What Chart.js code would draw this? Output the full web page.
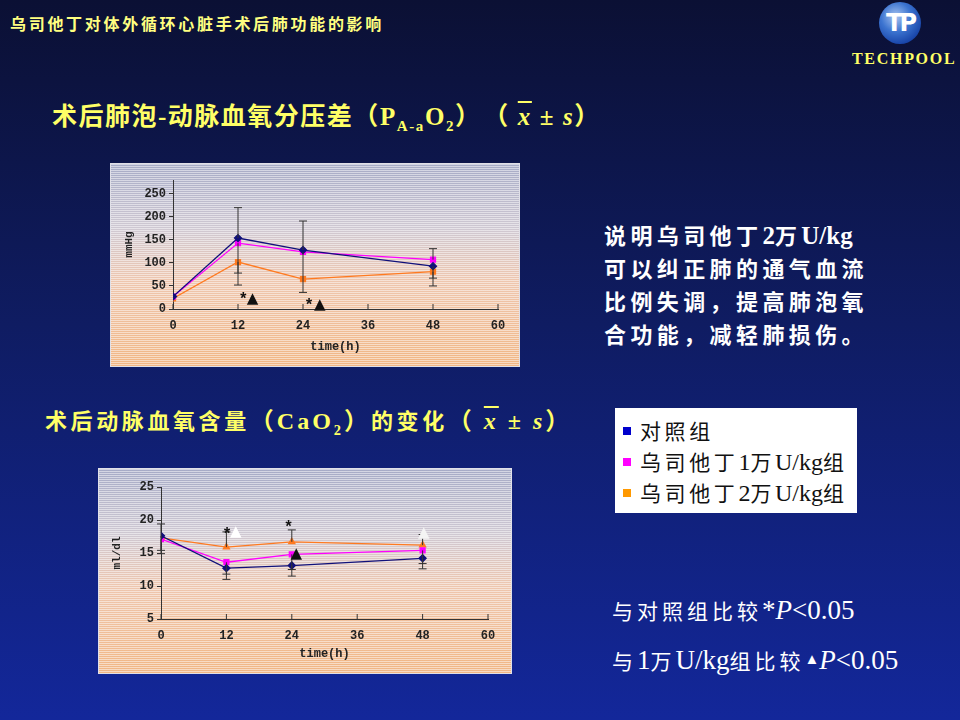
<!DOCTYPE html>
<html>
<head>
<meta charset="utf-8">
<script src="https://cdn.jsdelivr.net/npm/chart.js@4.4.0/dist/chart.umd.min.js"></script>
<style>
  html, body { margin:0; padding:0; }
  body {
    width:960px; height:720px; overflow:hidden; position:relative;
    background: linear-gradient(to bottom, #0b1034 0%, #0f1c62 45%, #13279a 100%);
    font-family: "Liberation Serif", "Noto Sans CJK SC", serif;
  }
  .abs { position:absolute; white-space:nowrap; }
  .yellow { color:#ffff66; }
  .lat { letter-spacing:0; }
  .head { left:10px; top:11px; font:bold 16px "Noto Sans CJK SC"; letter-spacing:2.7px; color:#ffff80; }
  .logo { left:879px; top:2px; width:42px; height:42px; border-radius:50%;
    background: radial-gradient(circle at 40% 35%, #a8c4f0 0%, #3c74d0 40%, #1844a8 75%, #0c2c80 100%);
    color:#fff; font:bold 24px "DejaVu Sans"; text-align:center; line-height:42px; letter-spacing:-3px; }
  .tech { left:852px; top:50px; font:bold 16px "Liberation Serif"; letter-spacing:1.7px; color:#ffff66; }
  .t1 { left:52px; top:102px; font-size:25px; font-weight:bold; letter-spacing:1.5px; line-height:30px; }
  .t1 .lat { letter-spacing:1.6px; }
  .t2 { left:45px; top:406px; font-size:22px; font-weight:bold; letter-spacing:3.6px; line-height:30px; }
  .t2 .lat { font-size:24px; letter-spacing:3px; }
  .xbar { text-decoration: overline; font-style:italic; }
  sub { font-size:60%; }
  .box { position:absolute; border:1px solid #e0e0e8; box-sizing:border-box;
    background:
      repeating-linear-gradient(to bottom, rgba(255,255,255,0.5) 0px, rgba(255,255,255,0.5) 1px, rgba(255,255,255,0) 1px, rgba(255,255,255,0) 2px),
      linear-gradient(to bottom, #a6abc6 0%, #cfc8d2 32%, #eec6ae 58%, #f1b684 100%);
  }
  .note { left:604px; top:218px; font:bold 22px "Noto Sans CJK SC"; letter-spacing:4.4px; line-height:33px; color:#fff; }
  .note .lat { font:bold 25px "Liberation Serif"; }
  .legend { left:615px; top:408px; width:242px; height:105px; background:#fff; }
  .legend .item { position:absolute; left:8px; font:21px "Noto Sans CJK SC"; letter-spacing:3.6px; color:#111; line-height:26px; }
  .legend .lat { font:24px "Liberation Serif"; letter-spacing:0; }
  .legend .sw { display:inline-block; width:8px; height:8px; margin-right:9px; vertical-align:middle; position:relative; top:-2px; }
  .sig { left:612px; font:21px "Noto Sans CJK SC"; color:#fff; letter-spacing:4px; line-height:30px; }
  .sig .lat { font:27px "Liberation Serif"; letter-spacing:0; }
</style>
</head>
<body>
<div class="abs head">乌司他丁对体外循环心脏手术后肺功能的影响</div>
<div class="abs logo">TP</div>
<div class="abs tech">TECHPOOL</div>

<div class="abs t1 yellow">术后肺泡-动脉血氧分压差<span class="lat">（P<sub>A-a</sub>O<sub>2</sub>）　（ <span class="xbar">x</span> ± <i>s</i>）</span></div>
<div class="abs t2 yellow">术后动脉血氧含量<span class="lat">（CaO<sub>2</sub>）</span>的变化<span class="lat">（ <span class="xbar">x</span> ± <i>s</i>）</span></div>

<div class="box" style="left:110px; top:163px; width:410px; height:204px;"><canvas id="chart1"></canvas></div>
<div class="box" style="left:98px; top:468px; width:414px; height:206px;"><canvas id="chart2"></canvas></div>

<div class="abs note">说明乌司他丁<span class="lat">2</span>万<span class="lat">U/kg</span><br>可以纠正肺的通气血流<br>比例失调，提高肺泡氧<br>合功能，减轻肺损伤。</div>

<div class="abs legend" id="legend"></div>

<div class="abs sig" style="top:595px;">与对照组比较<span class="lat">*<i>P</i>&lt;0.05</span></div>
<div class="abs sig" style="top:645px;">与<span class="lat">1</span>万<span class="lat">U/kg</span>组比较<span class="lat"><span style="font-size:15px;position:relative;top:-5px;">▲</span><i>P</i>&lt;0.05</span></div>

<script>
// 時間（h）
var times = [0, 12, 24, 48];
var groupNames = ['对照组', '乌司他丁1万U/kg组', '乌司他丁2万U/kg组'];
var groupColors = ['#0000cc', '#ff00ff', '#ff9900'];

// PA-aO2 (mmHg)
var pa_ctrl = [27, 154, 128, 93];
var pa_u1   = [27, 143, 124, 107];
var pa_u2   = [23, 102, 65, 81];
// 誤差（上・下）
var pa_ctrl_up = [null, 66, 63, null];
var pa_ctrl_dn = [null, null, null, 26];
var pa_u1_up   = [null, null, null, 24];
var pa_u1_dn   = [null, 91, 88, null];
var pa_u2_up   = [null, null, null, null];
var pa_u2_dn   = [null, 24, null, 31];
var pa_notes = [
  { x: 13.0, y: 20, text: '*', color: '#111' },
  { x: 14.7, y: 22, text: '▲', color: '#111' },
  { x: 25.1, y: 6, text: '*', color: '#111' },
  { x: 27.1, y: 8, text: '▲', color: '#111' }
];
var pa_yticks = [0, 50, 100, 150, 200, 250];

// CaO2 (ml/dl)
var ca_ctrl = [17.6, 12.7, 13.1, 14.2];
var ca_u1   = [17.1, 13.6, 14.8, 15.4];
var ca_u2   = [17.3, 15.9, 16.7, 16.2];
var ca_ctrl_up = [null, null, null, null];
var ca_ctrl_dn = [2.7, 1.7, 1.6, 1.6];
var ca_u1_up   = [null, null, null, null];
var ca_u1_dn   = [1.7, 1.8, 2.3, 2.0];
var ca_u2_up   = [2.1, 2.3, 1.8, 1.6];
var ca_u2_dn   = [null, null, null, null];
var ca_notes = [
  { x: 12.1, y: 17.7, text: '*', color: '#111' },
  { x: 13.7, y: 18.1, text: '▲', color: '#ffffff' },
  { x: 23.4, y: 18.8, text: '*', color: '#111' },
  { x: 24.8, y: 14.9, text: '▲', color: '#111' },
  { x: 48.2, y: 18.0, text: '▲', color: '#f4f4f4' }
];
var ca_yticks = [5, 10, 15, 20, 25];

// 凡例（HTML）: ラテン文字部分だけ別フォント
var lg = document.getElementById('legend');
groupNames.forEach(function(name, i) {
  var d = document.createElement('div');
  d.className = 'item';
  d.style.top = (9 + i * 31) + 'px';
  var html = name.replace(/([0-9A-Za-z\/]+)/g, '<span class="lat">$1</span>');
  d.innerHTML = '<span class="sw" style="background:' + groupColors[i] + '"></span>' + html;
  lg.appendChild(d);
});

// 誤差棒・目盛・注記を描くプラグイン
var errorBarPlugin = {
  id: 'errorBars',
  afterDatasetsDraw: function(chart, args, opts) {
    var ctx = chart.ctx;
    var x = chart.scales.x, y = chart.scales.y;
    ctx.save();
    ctx.strokeStyle = '#333';
    ctx.lineWidth = 1;
    chart.data.datasets.forEach(function(ds) {
      ds.data.forEach(function(pt, i) {
        var px = x.getPixelForValue(pt.x);
        [[ds.errUp, 1], [ds.errDown, -1]].forEach(function(e) {
          var arr = e[0];
          if (!arr || arr[i] == null) return;
          var y0 = y.getPixelForValue(pt.y);
          var y1 = y.getPixelForValue(pt.y + e[1] * arr[i]);
          ctx.beginPath();
          ctx.moveTo(px, y0); ctx.lineTo(px, y1);
          ctx.moveTo(px - 4, y1); ctx.lineTo(px + 4, y1);
          ctx.stroke();
        });
      });
    });
    // x軸の内向き目盛
    x.ticks.forEach(function(t) {
      var px = x.getPixelForValue(t.value);
      ctx.beginPath();
      ctx.moveTo(px, y.bottom); ctx.lineTo(px, y.bottom - 5);
      ctx.stroke();
    });
    // 有意差の注記
    (opts.notes || []).forEach(function(n) {
      ctx.fillStyle = n.color;
      ctx.font = n.text == '*' ? 'bold 16px "Liberation Mono"' : '15px "DejaVu Sans"';
      ctx.textAlign = 'center';
      ctx.textBaseline = 'middle';
      ctx.fillText(n.text, x.getPixelForValue(n.x), y.getPixelForValue(n.y));
    });
    ctx.restore();
  }
};

function makeSet(label, vals, up, dn, color, style) {
  return {
    label: label,
    data: vals.map(function(v, i) { return { x: times[i], y: v }; }),
    errUp: up, errDown: dn,
    borderColor: color, backgroundColor: color,
    borderWidth: 1.3,
    pointStyle: style, pointRadius: 3.5, pointHoverRadius: 3.5,
    tension: 0
  };
}

function makeChart(id, sets, yMin, yMax, yTicks, yTitle, notes, padRight, padTop, xHeight) {
  var tickFont = { family: '"Liberation Mono"', size: 12, weight: 'bold' };
  return new Chart(document.getElementById(id), {
    type: 'line',
    data: { datasets: sets },
    options: {
      responsive: true,
      maintainAspectRatio: false,
      animation: false,
      layout: { padding: { left: 12, right: padRight, top: padTop, bottom: 0 } },
      plugins: {
        legend: { display: false },
        tooltip: { enabled: false },
        errorBars: { notes: notes }
      },
      scales: {
        x: {
          type: 'linear', min: 0, max: 60,
          ticks: { stepSize: 12, color: '#222', font: tickFont, padding: 10 },
          grid: { drawOnChartArea: false, drawTicks: false },
          border: { display: true, color: '#333', width: 1 },
          title: { display: true, text: 'time(h)', color: '#222',
                   font: { family: '"Liberation Mono"', size: 12, weight: 'bold' },
                   padding: { top: 4, bottom: 12 } },
          afterFit: function(s) { s.height = xHeight; }
        },
        y: {
          min: yMin, max: yMax,
          afterBuildTicks: function(s) { s.ticks = yTicks.map(function(v) { return { value: v }; }); },
          ticks: { color: '#222', font: tickFont, padding: 3 },
          grid: { drawOnChartArea: false, drawTicks: true, tickLength: 4, color: '#333' },
          border: { display: true, color: '#333', width: 1 },
          title: { display: true, text: yTitle, color: '#222',
                   font: { family: '"Liberation Mono"', size: 11, weight: 'bold' },
                   padding: 0 },
          afterFit: function(s) { s.width = 50; }
        }
      }
    },
    plugins: [errorBarPlugin]
  });
}

makeChart('chart1', [
  makeSet(groupNames[0], pa_ctrl, pa_ctrl_up, pa_ctrl_dn, '#10107a', 'rectRot'),
  makeSet(groupNames[1], pa_u1, pa_u1_up, pa_u1_dn, '#ff00ff', 'rect'),
  makeSet(groupNames[2], pa_u2, pa_u2_up, pa_u2_dn, '#ff7a20', 'rect')
], 0, 280, pa_yticks, 'mmHg', pa_notes, 21, 16, 57);

makeChart('chart2', [
  makeSet(groupNames[0], ca_ctrl, ca_ctrl_up, ca_ctrl_dn, '#10107a', 'rectRot'),
  makeSet(groupNames[1], ca_u1, ca_u1_up, ca_u1_dn, '#ff00ff', 'rect'),
  makeSet(groupNames[2], ca_u2, ca_u2_up, ca_u2_dn, '#ff7a20', 'triangle')
], 5, 25, ca_yticks, 'ml/dl', ca_notes, 23, 18, 54);
</script>
</body>
</html>
